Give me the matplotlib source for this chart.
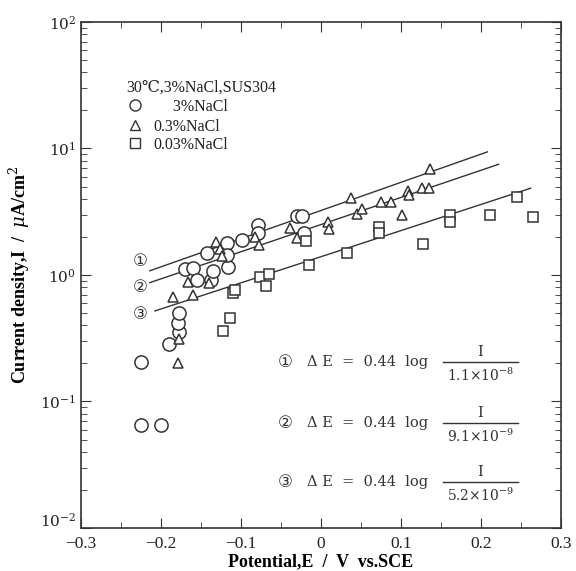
import numpy as np
import matplotlib
matplotlib.use("Agg")
import matplotlib.pyplot as plt
import matplotlib.transforms as mtransforms
from matplotlib.ticker import MultipleLocator, LogLocator, NullFormatter

plt.rcParams['font.family'] = ['Liberation Serif', 'DejaVu Serif', 'Noto Sans CJK JP']
plt.rcParams['mathtext.fontset'] = 'dejavuserif'

# 3% NaCl (circles)
e_3 = [-0.225, -0.225, -0.200, -0.190, -0.177, -0.179, -0.178, -0.170, -0.160,
       -0.155, -0.137, -0.135, -0.116, -0.142, -0.117, -0.099, -0.117, -0.079,
       -0.079, -0.030, -0.024, -0.021]
i_3 = [0.206, 0.065, 0.065, 0.283, 0.356, 0.42, 0.50, 1.11, 1.13,
       0.92, 0.91, 1.07, 1.16, 1.50, 1.80, 1.88, 1.44, 2.48,
       2.15, 2.93, 2.93, 2.14]

# 0.3% NaCl (triangles)
e_03 = [-0.179, -0.177, -0.185, -0.160, -0.166, -0.140, -0.131, -0.126, -0.124,
        -0.083, -0.077, -0.039, -0.030, 0.009, 0.010, 0.037, 0.045, 0.051,
        0.075, 0.088, 0.101, 0.109, 0.110, 0.126, 0.135, 0.136]
i_03 = [0.20, 0.31, 0.67, 0.70, 0.875, 0.87, 1.83, 1.60, 1.41,
        2.00, 1.73, 2.37, 1.95, 2.64, 2.30, 4.04, 3.03, 3.30,
        3.76, 3.75, 2.98, 4.60, 4.30, 4.85, 4.90, 6.85]

# 0.03% NaCl (squares)
e_003 = [-0.122, -0.114, -0.110, -0.107, -0.076, -0.065, -0.069, -0.015, -0.019,
         0.033, 0.073, 0.073, 0.127, 0.161, 0.161, 0.211, 0.245, 0.265]
i_003 = [0.36, 0.455, 0.72, 0.76, 0.96, 1.02, 0.82, 1.19, 1.87,
         1.49, 2.38, 2.14, 1.75, 2.98, 2.64, 2.98, 4.16, 2.86]

# fitted lines (end points)
line_e = [[-0.214, 0.208], [-0.214, 0.222], [-0.2075, 0.262]]
line_i = [[1.08, 9.4], [0.87, 7.5], [0.52, 4.85]]
line_tags = ['①', '②', '③']
line_tag_i = [1.29, 0.80, 0.49]
i0_labels = [r'1.1$\times$10$^{-8}$', r'9.1$\times$10$^{-9}$', r'5.2$\times$10$^{-9}$']

x_ticks = [-0.3, -0.2, -0.1, 0, 0.1, 0.2, 0.3]
x_ticklabels = ['−0.3', '−0.2', '−0.1', '0', '0.1', '0.2', '0.3']
y_ticks = [1e-2, 1e-1, 1e0, 1e1, 1e2]
y_ticklabels = ['$10^{-2}$', '$10^{-1}$', '$10^{0}$', '$10^{1}$', '$10^{2}$']

fig = plt.figure(figsize=(5.76, 5.71), dpi=100)
ax = fig.add_axes([0.1406, 0.0753, 0.8334, 0.8862])

ink = '#333333'
for le, li in zip(line_e, line_i):
    ax.plot(le, li, color=ink, lw=1.0, zorder=1)

mk = dict(linestyle='none', markerfacecolor='white', markeredgecolor=ink,
          markeredgewidth=1.1, zorder=3)
ax.plot(e_3, i_3, marker='o', markersize=9.5, **mk)
ax.plot(e_03, i_03, marker='^', markersize=7.5, **mk)
ax.plot(e_003, i_003, marker='s', markersize=6.5, **mk)

ax.set_yscale('log')
ax.set_xlim(-0.3, 0.3)
ax.set_ylim(1e-2, 1e2)
ax.set_xticks(x_ticks)
ax.set_xticklabels(x_ticklabels)
ax.set_yticks(y_ticks)
ax.set_yticklabels(y_ticklabels)
ax.xaxis.set_minor_locator(MultipleLocator(0.05))
ax.yaxis.set_minor_locator(LogLocator(base=10, subs=np.arange(2, 10), numticks=10))
ax.yaxis.set_minor_formatter(NullFormatter())
ax.tick_params(which='both', direction='in', top=True, right=True, colors=ink,
               labelcolor='#222222', labelsize=11)
ax.tick_params(axis='x', pad=6, labelsize=12.5)
ax.tick_params(which='major', length=7)
ax.tick_params(which='minor', length=4)
for s in ax.spines.values():
    s.set_color(ink)
    s.set_linewidth(1.2)

# lift the lowest y label a little so it clears the -0.3 label
lbl = ax.get_yticklabels()[0]
lbl.set_transform(lbl.get_transform() + mtransforms.ScaledTranslation(0, 6 / 72, fig.dpi_scale_trans))

ax.set_xlabel('Potential,E  /  V  vs.SCE', fontsize=13, fontweight='bold', labelpad=1)
ax.set_ylabel('Current density,I  /  $\\mu$A/cm$^2$', fontsize=13, fontweight='bold', labelpad=6)

# legend block
ax.text(0.094, 0.862, '30℃,3%NaCl,SUS304', transform=ax.transAxes, fontsize=11.5,
        color='#222222', family=['Liberation Serif', 'DejaVu Serif', 'DejaVu Sans'])
leg_y = [0.824, 0.785, 0.749]
leg_m = ['o', '^', 's']
leg_s = [8, 7.5, 6.5]
leg_t = ['     3%NaCl', '0.3%NaCl', '0.03%NaCl']
for y, m, s, t in zip(leg_y, leg_m, leg_s, leg_t):
    ax.plot([0.113], [y + 0.012], marker=m, markersize=s, transform=ax.transAxes,
            linestyle='none', markerfacecolor='white', markeredgecolor=ink, markeredgewidth=1.0)
    ax.text(0.15, y, t, transform=ax.transAxes, fontsize=11.5, color='#222222')

# circled line tags
for tag, ti in zip(line_tags, line_tag_i):
    ax.text(-0.226, ti, tag, fontsize=12, ha='center', va='center', color='#333333',
            family=['DejaVu Sans', 'Noto Sans CJK JP'])

# equations
eq_y = [0.328, 0.207, 0.091]
for tag, y, lab in zip(line_tags, eq_y, i0_labels):
    ax.text(0.425, y, tag, transform=ax.transAxes, fontsize=12, ha='center', va='center',
            color='#333333', family=['DejaVu Sans', 'Noto Sans CJK JP'])
    ax.text(0.47, y, 'Δ E  =  0.44  log', transform=ax.transAxes, fontsize=10.5,
            ha='left', va='center', color='#333333', family=['DejaVu Serif'])
    ax.plot([0.754, 0.910], [y, y], transform=ax.transAxes, color='#333333', lw=1.0)
    ax.text(0.832, y + 0.02, 'I', transform=ax.transAxes, fontsize=10.5, ha='center',
            va='center', color='#333333', family=['DejaVu Serif'])
    ax.text(0.832, y - 0.026, lab, transform=ax.transAxes, fontsize=10, ha='center',
            va='center', color='#333333', family=['DejaVu Serif'])

fig.savefig('out.png', dpi=100)
